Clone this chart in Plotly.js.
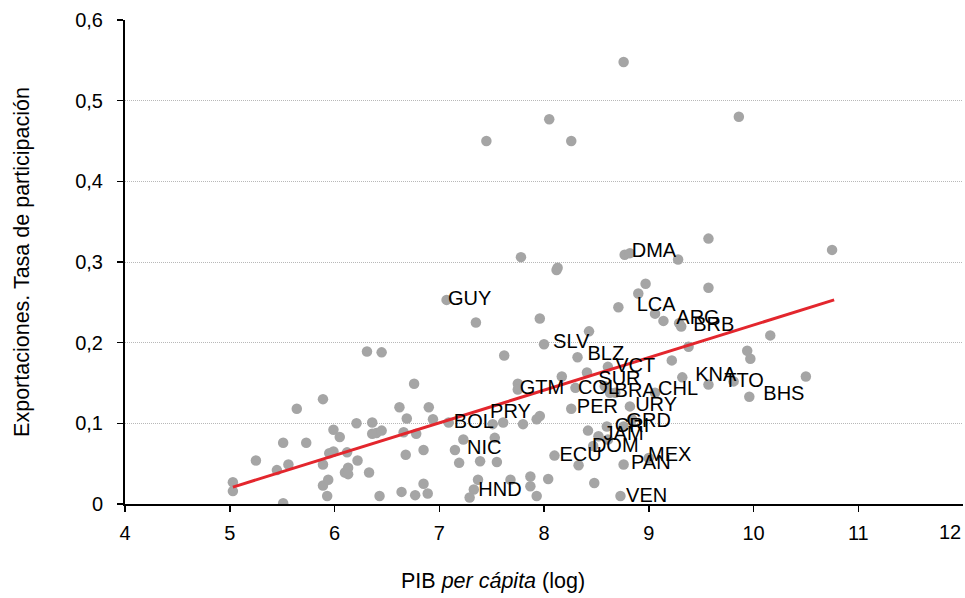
<!DOCTYPE html>
<html>
<head>
<meta charset="utf-8">
<script src="https://cdn.plot.ly/plotly-3.0.1.min.js"></script>
<style>html,body{margin:0;padding:0;background:#fff}#chart{width:965px;height:598px}</style>
</head>
<body>
<div id="chart"></div>
<script>
// Log GDP per capita (x) and export participation rate (y), all countries
const pibLog = [
  5.03, 5.03, 5.25, 5.45, 5.51, 5.51, 5.56, 5.64, 5.73, 5.89,
  5.89, 5.89, 5.93, 5.94, 5.95, 5.99, 5.99, 6.05, 6.10, 6.13,
  6.13, 6.12, 6.21, 6.22, 6.31, 6.33, 6.36, 6.36, 6.40, 6.45,
  6.45, 6.43, 6.64, 6.62, 6.66, 6.68, 6.69, 6.76, 6.77, 6.78,
  6.85, 6.85, 6.89, 6.90, 6.94, 7.07, 7.09, 7.15, 7.19, 7.23,
  7.35, 7.39, 7.45, 7.51, 7.53, 7.55, 7.61, 7.62, 7.68, 7.75,
  7.75, 7.78, 7.80, 7.87, 7.87, 7.93, 7.93, 7.96, 7.96, 8.00,
  8.04, 8.05, 8.10, 8.12, 8.13, 8.17, 8.26, 8.26, 8.30, 8.32,
  8.33, 8.41, 8.43, 8.42, 8.47, 8.48, 8.52, 8.58, 8.60, 8.61,
  8.61, 8.63, 8.68, 8.71, 8.73, 8.76, 8.76, 8.76, 8.77, 8.82,
  8.82, 8.84, 8.90, 8.97, 9.00, 9.06, 9.06, 9.14, 9.22, 9.28,
  9.29, 9.31, 9.32, 9.38, 9.57, 9.57, 9.57, 9.81, 9.86, 9.94,
  9.96, 9.97, 10.16, 10.50, 10.75, 7.33, 7.29, 7.37
];
const tasaExport = [
  0.027, 0.016, 0.054, 0.042, 0.001, 0.076, 0.049, 0.118, 0.076, 0.049,
  0.130, 0.023, 0.010, 0.030, 0.063, 0.065, 0.092, 0.083, 0.039, 0.045,
  0.037, 0.064, 0.100, 0.054, 0.189, 0.039, 0.101, 0.087, 0.088, 0.091,
  0.188, 0.010, 0.015, 0.120, 0.089, 0.061, 0.106, 0.149, 0.011, 0.087,
  0.067, 0.025, 0.013, 0.120, 0.105, 0.253, 0.101, 0.067, 0.051, 0.080,
  0.225, 0.053, 0.450, 0.099, 0.082, 0.052, 0.101, 0.184, 0.030, 0.149,
  0.142, 0.306, 0.099, 0.034, 0.022, 0.010, 0.105, 0.109, 0.230, 0.198,
  0.031, 0.477, 0.060, 0.290, 0.293, 0.158, 0.118, 0.450, 0.144, 0.182,
  0.048, 0.163, 0.214, 0.091, 0.072, 0.026, 0.084, 0.146, 0.096, 0.170,
  0.080, 0.138, 0.138, 0.244, 0.010, 0.096, 0.049, 0.548, 0.309, 0.311,
  0.121, 0.105, 0.261, 0.273, 0.057, 0.138, 0.236, 0.227, 0.178, 0.303,
  0.224, 0.220, 0.157, 0.195, 0.148, 0.329, 0.268, 0.152, 0.480, 0.190,
  0.133, 0.180, 0.209, 0.158, 0.315, 0.018, 0.008, 0.030
];
// Country code labels and where they sit (label centre, data units)
const codigos = ["GUY","BOL","PRY","NIC","HND","GTM","SLV","BLZ","VCT","SUR",
  "COL","BRA","CHL","PER","URY","GRD","CRI","JAM","DOM","ECU",
  "MEX","PAN","VEN","DMA","LCA","ARG","BRB","KNA","TTO","BHS"];
const codigoX = [7.29, 7.33, 7.68, 7.43, 7.58, 7.98, 8.26, 8.59, 8.87, 8.72,
  8.52, 8.87, 9.28, 8.51, 9.07, 9.00, 8.84, 8.76, 8.68, 8.35,
  9.20, 9.02, 8.98, 9.05, 9.07, 9.47, 9.62, 9.64, 9.91, 10.29];
const codigoY = [0.253, 0.101, 0.113, 0.068, 0.016, 0.142, 0.200, 0.185, 0.170, 0.154,
  0.143, 0.139, 0.141, 0.119, 0.121, 0.102, 0.096, 0.086, 0.071, 0.059,
  0.059, 0.050, 0.009, 0.312, 0.246, 0.229, 0.221, 0.159, 0.151, 0.135];
// Fitted trend line endpoints
const tendX = [5.03, 10.77];
const tendY = [0.021, 0.253];
// Axis ticks
const xTicks = [4, 5, 6, 7, 8, 9, 10, 11, 12];
const yTicks = [0, 0.1, 0.2, 0.3, 0.4, 0.5, 0.6];
const xTitle = "PIB <i>per cápita</i> (log)";
const yTitle = "Exportaciones. Tasa de participación";

const FONT = "Liberation Sans, Arial, sans-serif";
const lastX = xTicks[xTicks.length - 1];
const traces = [
  {x: pibLog, y: tasaExport, type: "scatter", mode: "markers",
   marker: {color: "#a5a5a5", size: 10.5}, hoverinfo: "x+y"},
  {x: tendX, y: tendY, type: "scatter", mode: "lines",
   line: {color: "#e3262d", width: 3}, hoverinfo: "skip"},
  {x: codigoX, y: codigoY, type: "scatter", mode: "text", text: codigos,
   textposition: "middle center", textfont: {family: FONT, size: 20, color: "#000"},
   hoverinfo: "skip"}
];
const layout = {
  width: 965, height: 598,
  margin: {l: 125, r: 2, t: 20, b: 94},
  paper_bgcolor: "#fff", plot_bgcolor: "#fff",
  showlegend: false,
  separators: ",.",
  font: {family: FONT, size: 20, color: "#000"},
  xaxis: {
    range: [4, 12], tickmode: "array",
    tickvals: xTicks.slice(0, -1), ticktext: xTicks.slice(0, -1).map(String),
    showgrid: false, zeroline: false,
    showline: true, linecolor: "#000", linewidth: 2,
    ticks: "outside", ticklen: 6, tickcolor: "#000", tickwidth: 1.5,
    ticklabelstandoff: 4,
    tickfont: {family: FONT, size: 20}, automargin: false
  },
  yaxis: {
    range: [0, 0.6], tickmode: "array", tickvals: yTicks,
    ticktext: yTicks.map(v => v === 0 ? "0" : String(v).replace(".", ",")),
    showgrid: true, gridcolor: "#b8b8b8", griddash: "1px,1px", gridwidth: 1,
    zeroline: false, showline: true, linecolor: "#000", linewidth: 2,
    ticks: "outside", ticklen: 6, tickcolor: "#000", tickwidth: 1.5,
    ticklabelstandoff: 10,
    tickfont: {family: FONT, size: 20}, automargin: false,
    title: {text: yTitle, font: {family: FONT, size: 21.5}, standoff: 40}
  },
  annotations: [
    {xref: "x", yref: "paper", x: lastX, y: 0, yshift: -15, text: String(lastX),
     showarrow: false, xanchor: "right", yanchor: "top",
     font: {family: FONT, size: 20, color: "#000"}},
    {xref: "paper", yref: "paper", x: 0.439, y: 0, yshift: -77, text: xTitle,
     showarrow: false, xanchor: "center", yanchor: "middle",
     font: {family: FONT, size: 21.5, color: "#000"}}
  ]
};
Plotly.newPlot("chart", traces, layout, {displayModeBar: false, staticPlot: true});
</script>
</body>
</html>
